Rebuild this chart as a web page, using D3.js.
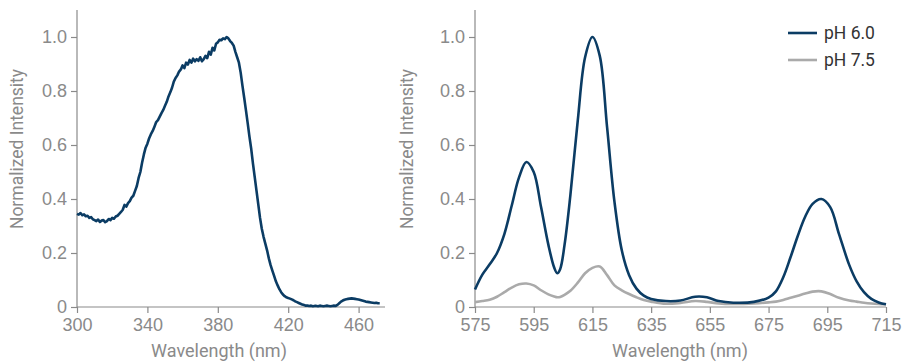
<!DOCTYPE html>
<html>
<head>
<meta charset="utf-8">
<script src="https://cdn.jsdelivr.net/npm/d3@7/dist/d3.min.js"></script>
<style>
  html, body { margin: 0; padding: 0; background: #fff; }
  svg { display: block; font-family: Roboto, "Noto Sans", sans-serif; }
  .tick text { fill: #8a8a8a; font-size: 18px; }
  .tick line, .domain { stroke: #8a8a8a; stroke-width: 1.2px; }
  .axis-title { fill: #8a8a8a; font-size: 18px; }
  .axis-title.y { font-size: 17.5px; }
  .legend-text { fill: #333; font-size: 17.5px; }
</style>
</head>
<body>
<svg id="chart" width="902" height="362"></svg>
<script>
// Excitation spectrum: sampled every 1 nm starting at 300 nm
const excStart = 300;
const excStep = 1;
const excValues = [
  0.345, 0.342, 0.348, 0.340, 0.343, 0.336, 0.338, 0.330, 0.333, 0.325,
  0.322, 0.318, 0.324, 0.315, 0.320, 0.322, 0.314, 0.318, 0.326, 0.322,
  0.330, 0.327, 0.335, 0.338, 0.345, 0.352, 0.360, 0.378, 0.372, 0.385,
  0.392, 0.405, 0.412, 0.430, 0.448, 0.478, 0.500, 0.535, 0.565, 0.590,
  0.605, 0.625, 0.640, 0.652, 0.668, 0.685, 0.692, 0.705, 0.718, 0.730,
  0.745, 0.760, 0.780, 0.795, 0.812, 0.835, 0.848, 0.858, 0.872, 0.880,
  0.895, 0.885, 0.905, 0.898, 0.915, 0.905, 0.920, 0.910, 0.918, 0.912,
  0.925, 0.910, 0.918, 0.930, 0.922, 0.945, 0.935, 0.960, 0.950, 0.975,
  0.980, 0.990, 0.988, 0.995, 0.992, 1.000, 0.995, 0.985, 0.978, 0.968,
  0.945, 0.925, 0.905, 0.868, 0.820, 0.775, 0.728, 0.680, 0.630, 0.585,
  0.530, 0.480, 0.430, 0.380, 0.330, 0.290, 0.260, 0.235, 0.210, 0.180,
  0.155, 0.135, 0.115, 0.095, 0.080, 0.066, 0.055, 0.046, 0.040, 0.036,
  0.033, 0.031, 0.028, 0.025, 0.021, 0.018, 0.015, 0.012, 0.009, 0.007,
  0.005, 0.005, 0.004, 0.005, 0.003, 0.004, 0.004, 0.003, 0.005, 0.004,
  0.003, 0.004, 0.005, 0.004, 0.003, 0.004, 0.005, 0.004, 0.008, 0.014,
  0.020, 0.024, 0.027, 0.029, 0.030, 0.031, 0.032, 0.031, 0.030, 0.029,
  0.028, 0.026, 0.024, 0.022, 0.020, 0.019, 0.018, 0.017, 0.016, 0.015,
  0.016, 0.014, 0.014
];

// Emission spectra at two pH values
const emWavelengths = [
  575, 577.5, 580, 582.5, 585, 587.5, 590, 592.5, 595, 597.5,
  600, 602, 603, 604, 605.5, 607.5, 610, 612.5, 615, 617.5,
  620, 622.5, 625, 627.5, 630, 632.5, 635, 640, 645, 650,
  654, 658, 663, 670, 675, 677.5, 680, 682.5, 685, 687.5,
  690, 693, 696, 699, 702.5, 705, 707.5, 710, 712.5, 715
];
const ph60 = [
  0.065, 0.120, 0.158, 0.200, 0.270, 0.375, 0.480, 0.537, 0.500, 0.370,
  0.230, 0.145, 0.125, 0.140, 0.230, 0.415, 0.690, 0.925, 1.000, 0.930,
  0.665, 0.390, 0.210, 0.118, 0.068, 0.042, 0.030, 0.022, 0.024, 0.038,
  0.036, 0.022, 0.016, 0.019, 0.035, 0.058, 0.110, 0.185, 0.265, 0.335,
  0.382, 0.400, 0.370, 0.270, 0.155, 0.095, 0.055, 0.030, 0.017, 0.010
];
const ph75 = [
  0.018, 0.022, 0.027, 0.038, 0.055, 0.072, 0.084, 0.087, 0.080, 0.062,
  0.047, 0.039, 0.036, 0.037, 0.045, 0.060, 0.090, 0.125, 0.145, 0.150,
  0.118, 0.080, 0.062, 0.048, 0.036, 0.026, 0.020, 0.012, 0.015, 0.022,
  0.019, 0.013, 0.011, 0.013, 0.017, 0.020, 0.026, 0.034, 0.042, 0.050,
  0.057, 0.058, 0.048, 0.034, 0.024, 0.020, 0.016, 0.013, 0.011, 0.010
];

const yTicks = [0, 0.2, 0.4, 0.6, 0.8, 1.0];
const excTicks = [300, 340, 380, 420, 460];
const emTicks = [575, 595, 615, 635, 655, 675, 695, 715];
const seriesNames = ["pH 6.0", "pH 7.5"];
const seriesColors = ["#0b3c64", "#aaaaaa"];

const svg = d3.select("#chart");
const plotTop = 10, plotBottom = 307;

function yFmt(d) { return d === 0 ? "0" : d3.format(".1f")(d); }

function drawPanel(xRange, xDomain, ticks, titleX) {
  const x = d3.scaleLinear().domain(xDomain).range(xRange);
  const y = d3.scaleLinear().domain([0, 1.1]).range([plotBottom, plotTop]);

  const gx = svg.append("g").attr("transform", `translate(0,${plotBottom})`)
    .call(d3.axisBottom(x).tickValues(ticks).tickSize(6).tickPadding(5).tickFormat(d3.format("d")));
  gx.select(".domain").attr("d", `M${xRange[0]},0H${xRange[1]}`);

  const gy = svg.append("g").attr("transform", `translate(${xRange[0]},0)`)
    .call(d3.axisLeft(y).tickValues(yTicks).tickSize(6).tickPadding(4).tickFormat(yFmt));
  gy.select(".domain").attr("d", `M0,${plotTop}V${plotBottom}`);

  svg.append("text").attr("class", "axis-title")
    .attr("x", titleX).attr("y", 357).attr("text-anchor", "middle")
    .text("Wavelength (nm)");
  return { x, y };
}

// Left panel: excitation
const L = drawPanel([77, 385], [300, 475], excTicks, 219);
svg.append("text").attr("class", "axis-title y")
  .attr("transform", `translate(23,149) rotate(-90)`)
  .attr("text-anchor", "middle").text("Normalized Intensity");

const excLine = d3.line()
  .x((d, i) => L.x(excStart + i * excStep))
  .y(d => L.y(d));
svg.append("path").datum(excValues)
  .attr("d", excLine)
  .attr("fill", "none").attr("stroke", seriesColors[0])
  .attr("stroke-width", 2.6).attr("stroke-linejoin", "round");

// Right panel: emission
const R = drawPanel([475, 886], [575, 715], emTicks, 680);
svg.append("text").attr("class", "axis-title y")
  .attr("transform", `translate(413,149) rotate(-90)`)
  .attr("text-anchor", "middle").text("Normalized Intensity");

const emLine = d3.line()
  .x((d, i) => R.x(emWavelengths[i]))
  .y(d => R.y(d))
  .curve(d3.curveCatmullRom.alpha(0.5));

[ph75, ph60].forEach((vals, k) => {
  const idx = k === 0 ? 1 : 0;
  svg.append("path").datum(vals)
    .attr("d", emLine)
    .attr("fill", "none").attr("stroke", seriesColors[idx])
    .attr("stroke-width", 2.6).attr("stroke-linejoin", "round");
});

// Legend
const lg = svg.append("g");
seriesNames.forEach((name, i) => {
  const yy = 33 + i * 27;
  lg.append("line").attr("x1", 788).attr("x2", 817).attr("y1", yy).attr("y2", yy)
    .attr("stroke", seriesColors[i]).attr("stroke-width", 2.6);
  lg.append("text").attr("class", "legend-text")
    .attr("x", 824).attr("y", yy).attr("dy", "0.35em").text(name);
});
</script>
</body>
</html>
